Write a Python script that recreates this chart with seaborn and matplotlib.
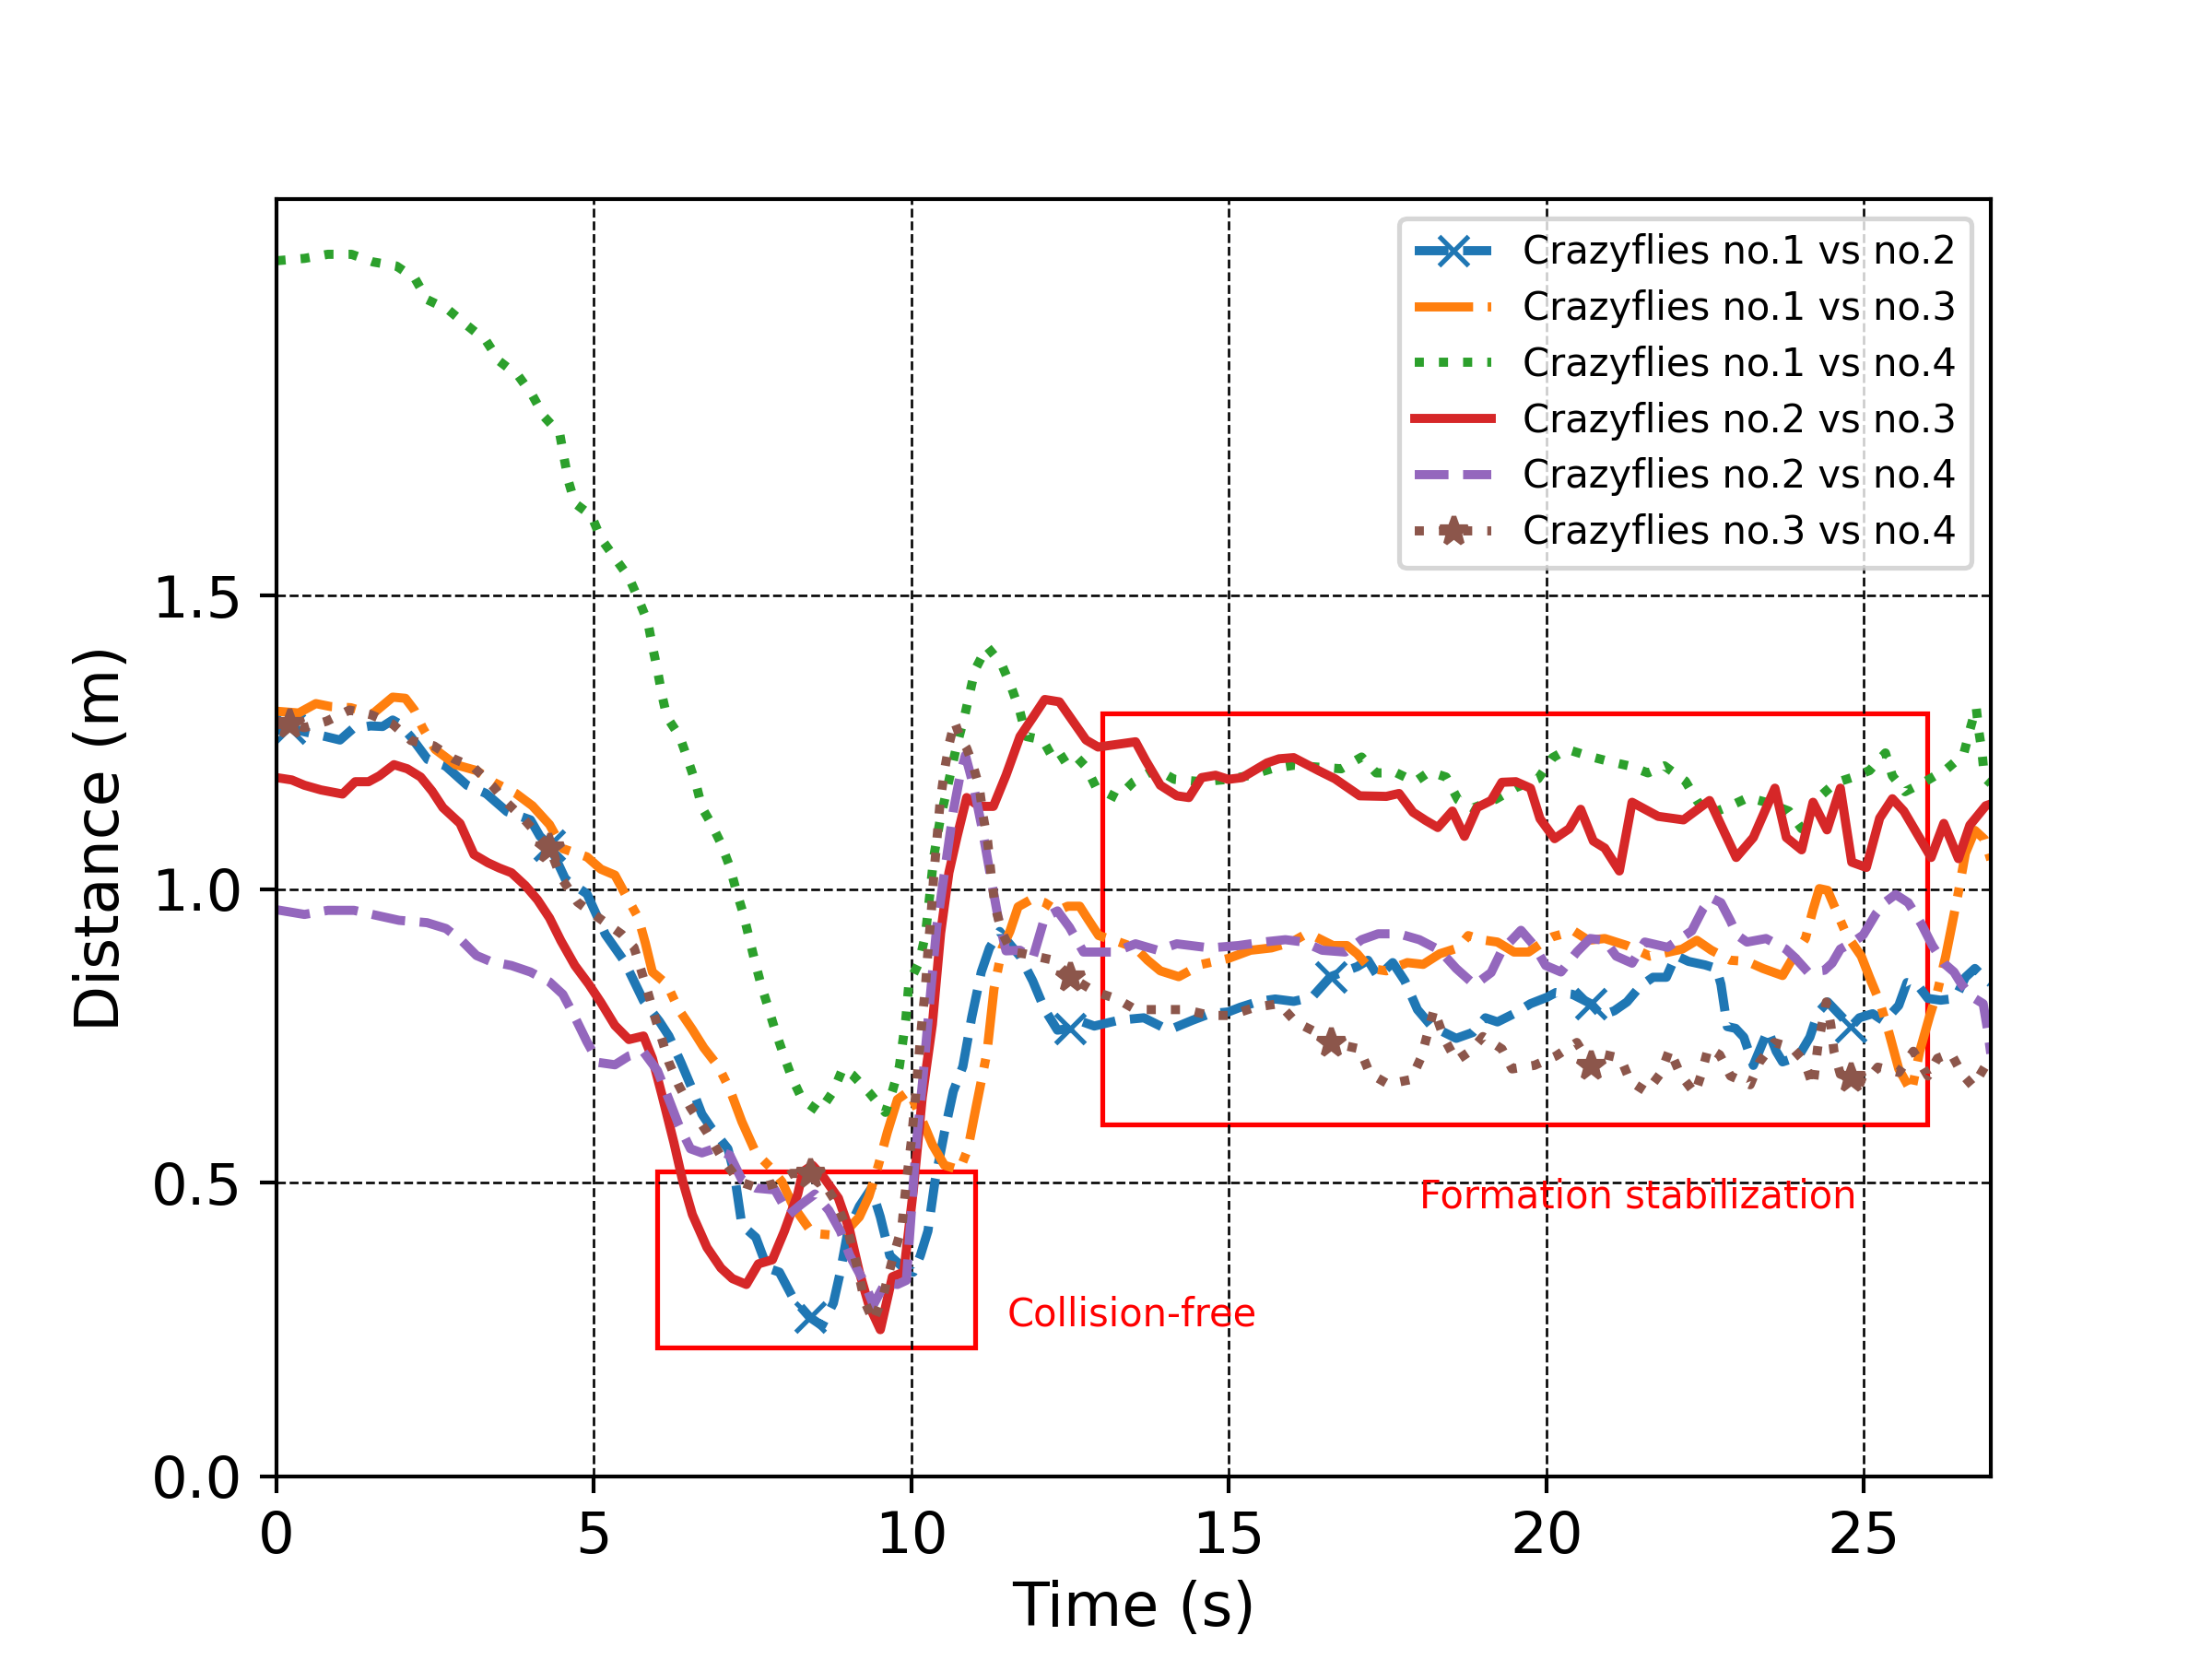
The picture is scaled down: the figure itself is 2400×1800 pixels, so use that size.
import numpy as np
import matplotlib
matplotlib.use("Agg")
import matplotlib.pyplot as plt
import matplotlib.patches as mpatches
import seaborn as sns

# ---------------- data ----------------
LABELS = ["Crazyflies no.1 vs no.2", "Crazyflies no.1 vs no.3", "Crazyflies no.1 vs no.4",
          "Crazyflies no.2 vs no.3", "Crazyflies no.2 vs no.4", "Crazyflies no.3 vs no.4"]
MARK_T = [0.2, 4.3, 8.4, 12.5, 16.6, 20.7, 24.8]

T12 = [0.0, 0.2, 0.44, 0.77, 1.0, 1.2, 1.48, 1.67, 1.83, 1.93, 2.12, 2.38, 2.66, 3.0, 3.3, 3.63, 4.0, 4.15, 4.3,
       4.55, 4.89, 5.18, 5.48, 5.78, 6.03, 6.18, 6.37, 6.55, 6.7, 6.85, 7.11, 7.21, 7.33, 7.55, 7.73, 7.92, 8.14,
       8.4, 8.59, 8.77, 8.88, 9.0, 9.18, 9.37, 9.51, 9.66, 9.88, 10.03, 10.14, 10.26, 10.37, 10.52, 10.66, 10.81,
       10.95, 11.1, 11.23, 11.39, 11.49, 11.71, 11.91, 12.1, 12.3, 12.5, 12.62, 12.88, 13.27, 13.66, 14.05, 14.43,
       14.7, 14.99, 15.18, 15.47, 15.73, 16.02, 16.31, 16.6, 16.77, 17.02, 17.19, 17.35, 17.58, 17.77, 17.97,
       18.19, 18.58, 18.84, 19.04, 19.23, 19.49, 19.75, 20.01, 20.15, 20.41, 20.7, 20.87, 21.07, 21.27, 21.48,
       21.68, 21.89, 22.04, 22.24, 22.5, 22.68, 22.75, 22.85, 22.98, 23.11, 23.26, 23.49, 23.62, 23.72, 23.97,
       24.15, 24.28, 24.43, 24.8, 24.93, 25.14, 25.32, 25.55, 25.68, 25.86, 26.01, 26.21, 26.44, 26.6, 26.75,
       26.92, 27.0]
D12 = [1.27, 1.275, 1.268, 1.26, 1.254, 1.273, 1.278, 1.277, 1.288, 1.282, 1.259, 1.221, 1.21, 1.177, 1.163,
       1.132, 1.118, 1.09, 1.075, 1.017, 0.992, 0.923, 0.877, 0.81, 0.775, 0.75, 0.705, 0.659, 0.617, 0.593,
       0.558, 0.516, 0.428, 0.407, 0.355, 0.348, 0.303, 0.271, 0.257, 0.295, 0.348, 0.418, 0.46, 0.491, 0.442,
       0.376, 0.355, 0.348, 0.376, 0.418, 0.502, 0.586, 0.656, 0.698, 0.782, 0.859, 0.9, 0.928, 0.914, 0.886,
       0.844, 0.795, 0.76, 0.763, 0.777, 0.767, 0.777, 0.781, 0.76, 0.777, 0.788, 0.791, 0.799, 0.809, 0.813,
       0.809, 0.816, 0.851, 0.858, 0.868, 0.879, 0.851, 0.875, 0.844, 0.795, 0.767, 0.746, 0.756, 0.781, 0.774,
       0.788, 0.805, 0.816, 0.824, 0.821, 0.805, 0.785, 0.793, 0.808, 0.835, 0.85, 0.85, 0.887, 0.877, 0.871,
       0.865, 0.838, 0.766, 0.763, 0.748, 0.70, 0.76, 0.724, 0.706, 0.715, 0.748, 0.79, 0.808, 0.766, 0.781,
       0.788, 0.775, 0.802, 0.841, 0.835, 0.814, 0.811, 0.814, 0.85, 0.865, 0.847, 0.84]

T13 = [0.0, 0.35, 0.62, 0.85, 1.17, 1.51, 1.83, 2.03, 2.17, 2.3, 2.5, 2.82, 3.15, 3.44, 3.77, 4.03, 4.3, 4.51,
       4.89, 5.11, 5.33, 5.51, 5.7, 5.81, 5.92, 6.15, 6.33, 6.55, 6.73, 6.96, 7.14, 7.33, 7.55, 7.78, 7.96, 8.14,
       8.44, 8.77, 9.0, 9.18, 9.33, 9.48, 9.62, 9.78, 9.96, 10.14, 10.33, 10.52, 10.76, 10.89, 11.02, 11.19,
       11.3, 11.43, 11.55, 11.68, 11.91, 12.1, 12.3, 12.46, 12.65, 12.78, 12.95, 13.27, 13.53, 13.72, 13.92,
       14.21, 14.57, 14.99, 15.34, 15.67, 15.99, 16.22, 16.38, 16.64, 16.86, 17.02, 17.22, 17.48, 17.81, 18.06,
       18.32, 18.61, 18.77, 18.97, 19.23, 19.49, 19.72, 19.95, 20.1, 20.43, 20.66, 20.92, 21.27, 21.63, 21.89,
       22.14, 22.37, 22.6, 22.9, 23.16, 23.41, 23.72, 23.9, 24.08, 24.2, 24.3, 24.43, 24.61, 24.73, 24.96,
       25.09, 25.25, 25.4, 25.55, 25.75, 25.88, 26.04, 26.16, 26.29, 26.39, 26.49, 26.6, 26.75, 26.9, 27.0]
D13 = [1.303, 1.30, 1.316, 1.311, 1.309, 1.298, 1.327, 1.325, 1.305, 1.275, 1.238, 1.212, 1.202, 1.181, 1.163,
       1.142, 1.11, 1.069, 1.055, 1.034, 1.024, 0.988, 0.951, 0.908, 0.859, 0.838, 0.796, 0.761, 0.73, 0.698,
       0.659, 0.604, 0.551, 0.526, 0.502, 0.46, 0.414, 0.411, 0.421, 0.442, 0.477, 0.53, 0.586, 0.642, 0.656,
       0.614, 0.565, 0.53, 0.522, 0.558, 0.63, 0.722, 0.83, 0.90, 0.928, 0.97, 0.984, 0.977, 0.963, 0.971,
       0.971, 0.949, 0.921, 0.91, 0.90, 0.879, 0.861, 0.851, 0.872, 0.882, 0.896, 0.90, 0.91, 0.924, 0.918,
       0.904, 0.904, 0.89, 0.865, 0.861, 0.875, 0.872, 0.89, 0.90, 0.921, 0.914, 0.91, 0.893, 0.893, 0.91,
       0.919, 0.929, 0.913, 0.916, 0.904, 0.886, 0.892, 0.898, 0.913, 0.896, 0.879, 0.877, 0.865, 0.853, 0.886,
       0.916, 0.965, 1.001, 0.998, 0.952, 0.922, 0.886, 0.85, 0.808, 0.754, 0.694, 0.655, 0.724, 0.785, 0.826,
       0.886, 0.94, 0.995, 1.061, 1.10, 1.085, 1.05]

T14 = [0.0, 0.44, 0.81, 1.18, 1.52, 1.89, 2.18, 2.37, 2.7, 3.0, 3.3, 3.51, 3.81, 4.03, 4.22, 4.46, 4.53, 4.6,
       4.7, 4.96, 5.11, 5.33, 5.55, 5.7, 5.85, 5.92, 6.0, 6.07, 6.15, 6.35, 6.48, 6.61, 6.7, 6.85, 7.0, 7.14,
       7.24, 7.35, 7.44, 7.53, 7.63, 7.74, 7.85, 7.98, 8.11, 8.28, 8.55, 8.77, 8.92, 9.07, 9.34, 9.59, 9.7,
       9.81, 9.86, 9.91, 9.96, 10.12, 10.22, 10.29, 10.35, 10.45, 10.58, 10.71, 10.84, 11.0, 11.19, 11.42,
       11.58, 11.71, 11.81, 12.07, 12.27, 12.53, 12.75, 12.91, 13.24, 13.5, 13.85, 14.14, 14.57, 14.99, 15.34,
       15.67, 16.02, 16.38, 16.77, 17.09, 17.32, 17.64, 17.93, 18.16, 18.42, 18.61, 18.84, 19.2, 19.52, 19.87,
       20.1, 20.33, 20.69, 20.97, 21.3, 21.6, 21.86, 22.19, 22.37, 22.55, 22.9, 23.18, 23.46, 23.82, 24.02,
       24.22, 24.3, 24.55, 24.81, 25.09, 25.34, 25.45, 25.65, 25.98, 26.31, 26.57, 26.67, 26.77, 26.81, 26.86,
       26.9, 27.0]
D14 = [2.07, 2.074, 2.081, 2.081, 2.068, 2.061, 2.04, 2.004, 1.987, 1.96, 1.934, 1.899, 1.874, 1.841, 1.804,
       1.776, 1.734, 1.694, 1.657, 1.636, 1.597, 1.564, 1.531, 1.494, 1.454, 1.414, 1.373, 1.331, 1.293, 1.26,
       1.22, 1.178, 1.139, 1.111, 1.078, 1.038, 0.998, 0.959, 0.919, 0.879, 0.838, 0.80, 0.761, 0.72, 0.681,
       0.642, 0.621, 0.656, 0.695, 0.684, 0.653, 0.62, 0.656, 0.698, 0.737, 0.777, 0.84, 0.875, 0.922, 0.991,
       1.054, 1.117, 1.18, 1.243, 1.296, 1.373, 1.413, 1.383, 1.342, 1.302, 1.26, 1.254, 1.215, 1.233, 1.208,
       1.173, 1.155, 1.183, 1.205, 1.187, 1.183, 1.187, 1.194, 1.205, 1.211, 1.208, 1.205, 1.225, 1.198, 1.198,
       1.183, 1.20, 1.191, 1.152, 1.138, 1.153, 1.173, 1.188, 1.224, 1.238, 1.226, 1.218, 1.21, 1.198, 1.21,
       1.184, 1.151, 1.127, 1.142, 1.156, 1.148, 1.133, 1.103, 1.121, 1.157, 1.181, 1.19, 1.202, 1.232, 1.193,
       1.166, 1.184, 1.205, 1.229, 1.271, 1.31, 1.27, 1.235, 1.19, 1.18]

T23 = [0.0, 0.24, 0.44, 0.7, 1.04, 1.24, 1.45, 1.62, 1.85, 2.06, 2.27, 2.45, 2.62, 2.89, 3.11, 3.33, 3.51, 3.7,
       3.92, 4.11, 4.3, 4.48, 4.7, 4.92, 5.11, 5.33, 5.55, 5.78, 5.92, 6.07, 6.26, 6.4, 6.55, 6.78, 7.0, 7.18,
       7.4, 7.59, 7.81, 8.0, 8.21, 8.29, 8.44, 8.62, 8.85, 9.03, 9.18, 9.33, 9.51, 9.7, 9.88, 10.03, 10.17,
       10.33, 10.46, 10.59, 10.72, 10.87, 11.07, 11.29, 11.49, 11.71, 11.91, 12.1, 12.33, 12.75, 12.94, 13.53,
       13.69, 13.92, 14.18, 14.37, 14.57, 14.79, 14.99, 15.21, 15.6, 15.79, 16.02, 16.41, 16.67, 17.06, 17.48,
       17.68, 17.9, 18.1, 18.29, 18.52, 18.71, 18.91, 19.13, 19.3, 19.52, 19.75, 19.9, 20.13, 20.36, 20.54,
       20.74, 20.92, 21.15, 21.35, 21.76, 22.16, 22.57, 22.99, 23.26, 23.6, 23.78, 24.02, 24.2, 24.42, 24.63,
       24.81, 25.04, 25.25, 25.45, 25.63, 26.06, 26.26, 26.49, 26.67, 26.92, 27.0]
D23 = [1.19, 1.186, 1.177, 1.169, 1.162, 1.183, 1.183, 1.193, 1.212, 1.205, 1.191, 1.167, 1.139, 1.112, 1.059,
       1.045, 1.036, 1.028, 1.006, 0.982, 0.951, 0.912, 0.87, 0.838, 0.807, 0.768, 0.744, 0.75, 0.712, 0.65,
       0.568, 0.502, 0.446, 0.39, 0.355, 0.337, 0.327, 0.362, 0.369, 0.418, 0.481, 0.519, 0.53, 0.509, 0.474,
       0.418, 0.348, 0.292, 0.25, 0.34, 0.348, 0.488, 0.645, 0.77, 0.925, 1.028, 1.09, 1.156, 1.141, 1.141,
       1.194, 1.26, 1.292, 1.323, 1.319, 1.254, 1.242, 1.251, 1.219, 1.177, 1.159, 1.156, 1.19, 1.194, 1.187,
       1.19, 1.215, 1.222, 1.224, 1.202, 1.188, 1.159, 1.158, 1.163, 1.131, 1.117, 1.105, 1.133, 1.09, 1.139,
       1.151, 1.182, 1.183, 1.172, 1.12, 1.086, 1.103, 1.136, 1.082, 1.07, 1.031, 1.148, 1.124, 1.118, 1.151,
       1.054, 1.088, 1.172, 1.088, 1.067, 1.148, 1.101, 1.172, 1.046, 1.037, 1.121, 1.154, 1.133, 1.054, 1.112,
       1.052, 1.109, 1.142, 1.145]

T24 = [0.0, 0.44, 0.81, 1.22, 1.55, 1.93, 2.37, 2.67, 2.92, 3.15, 3.37, 3.7, 4.0, 4.3, 4.51, 4.7, 4.89, 5.07,
       5.33, 5.55, 5.78, 6.0, 6.18, 6.33, 6.52, 6.7, 6.89, 7.14, 7.33, 7.55, 7.85, 8.07, 8.26, 8.48, 8.7, 8.88,
       9.03, 9.26, 9.4, 9.59, 9.78, 9.92, 10.0, 10.07, 10.18, 10.29, 10.4, 10.52, 10.66, 10.77, 10.85, 10.98,
       11.12, 11.25, 11.36, 11.49, 11.71, 11.91, 12.1, 12.3, 12.49, 12.71, 12.94, 13.2, 13.53, 13.88, 14.18,
       14.7, 15.15, 15.54, 15.89, 16.18, 16.47, 16.83, 17.09, 17.35, 17.68, 18.0, 18.32, 18.58, 18.87, 19.13,
       19.3, 19.6, 19.8, 19.99, 20.23, 20.48, 20.69, 20.92, 21.1, 21.35, 21.55, 21.91, 22.29, 22.47, 22.6,
       22.75, 22.9, 23.0, 23.16, 23.46, 23.77, 23.92, 24.12, 24.38, 24.5, 24.63, 24.83, 24.99, 25.19, 25.35,
       25.5, 25.7, 25.91, 26.08, 26.26, 26.42, 26.54, 26.7, 26.88, 26.95, 27.0]
D24 = [0.965, 0.957, 0.964, 0.964, 0.956, 0.947, 0.943, 0.933, 0.912, 0.887, 0.877, 0.87, 0.859, 0.842, 0.821,
       0.782, 0.74, 0.705, 0.701, 0.716, 0.723, 0.691, 0.642, 0.60, 0.558, 0.551, 0.558, 0.547, 0.505, 0.491,
       0.488, 0.446, 0.463, 0.481, 0.453, 0.418, 0.376, 0.33, 0.292, 0.33, 0.327, 0.334, 0.453, 0.558, 0.677,
       0.81, 0.937, 1.028, 1.133, 1.196, 1.228, 1.175, 1.10, 1.02, 0.955, 0.895, 0.896, 0.882, 0.952, 0.963,
       0.935, 0.893, 0.893, 0.893, 0.907, 0.896, 0.907, 0.90, 0.904, 0.91, 0.914, 0.91, 0.896, 0.893, 0.914,
       0.924, 0.924, 0.914, 0.896, 0.865, 0.837, 0.858, 0.896, 0.93, 0.905, 0.87, 0.859, 0.893, 0.916, 0.913,
       0.886, 0.874, 0.91, 0.901, 0.929, 0.967, 0.985, 0.977, 0.946, 0.922, 0.91, 0.916, 0.898, 0.883, 0.859,
       0.862, 0.874, 0.898, 0.91, 0.922, 0.958, 0.979, 0.991, 0.977, 0.94, 0.904, 0.874, 0.859, 0.838, 0.817,
       0.805, 0.76, 0.72]

T34 = [0.0, 0.2, 0.44, 0.79, 1.15, 1.49, 1.83, 2.12, 2.48, 2.79, 3.11, 3.41, 3.63, 3.9, 4.3, 4.48, 4.74, 5.04,
       5.44, 5.63, 5.74, 5.85, 5.96, 6.07, 6.18, 6.33, 6.52, 6.78, 7.03, 7.29, 7.59, 7.85, 8.11, 8.4, 8.59,
       8.81, 9.0, 9.15, 9.26, 9.4, 9.55, 9.7, 9.85, 9.92, 10.0, 10.06, 10.11, 10.16, 10.22, 10.26, 10.31,
       10.35, 10.4, 10.45, 10.52, 10.6, 10.68, 10.78, 10.87, 10.97, 11.07, 11.13, 11.2, 11.26, 11.32, 11.42,
       11.58, 11.78, 12.24, 12.5, 12.88, 13.24, 13.53, 13.92, 14.31, 14.7, 15.02, 15.41, 15.79, 16.05, 16.38,
       16.6, 17.06, 17.22, 17.51, 17.87, 18.03, 18.23, 18.39, 18.58, 18.81, 19.0, 19.3, 19.46, 19.81, 20.15,
       20.48, 20.7, 20.89, 21.17, 21.32, 21.58, 21.81, 21.94, 22.11, 22.34, 22.45, 22.55, 22.73, 22.9, 23.21,
       23.36, 23.59, 23.87, 24.07, 24.2, 24.28, 24.41, 24.48, 24.53, 24.63, 24.8, 25.02, 25.22, 25.55, 25.78,
       26.01, 26.16, 26.37, 26.55, 26.72, 26.92, 27.0]
D34 = [1.28, 1.282, 1.275, 1.286, 1.305, 1.297, 1.281, 1.253, 1.244, 1.222, 1.207, 1.175, 1.147, 1.119, 1.07,
       1.02, 0.978, 0.954, 0.923, 0.901, 0.863, 0.824, 0.782, 0.744, 0.705, 0.667, 0.628, 0.586, 0.54, 0.502,
       0.491, 0.499, 0.516, 0.516, 0.505, 0.467, 0.418, 0.355, 0.299, 0.264, 0.306, 0.369, 0.425, 0.502, 0.572,
       0.642, 0.705, 0.768, 0.832, 0.894, 0.957, 1.02, 1.083, 1.146, 1.202, 1.25, 1.285, 1.255, 1.24, 1.211,
       1.173, 1.124, 1.082, 1.019, 0.97, 0.928, 0.893, 0.89, 0.879, 0.851, 0.826, 0.813, 0.795, 0.795, 0.795,
       0.785, 0.785, 0.799, 0.805, 0.774, 0.756, 0.739, 0.728, 0.686, 0.668, 0.676, 0.714, 0.795, 0.746, 0.708,
       0.725, 0.749, 0.728, 0.694, 0.70, 0.716, 0.739, 0.70, 0.719, 0.712, 0.673, 0.655, 0.688, 0.727, 0.685,
       0.652, 0.688, 0.73, 0.718, 0.682, 0.667, 0.706, 0.739, 0.73, 0.706, 0.664, 0.736, 0.808, 0.769, 0.724,
       0.685, 0.679, 0.67, 0.697, 0.688, 0.724, 0.682, 0.712, 0.721, 0.685, 0.664, 0.70, 0.71]

COLORS = ["#1f77b4", "#ff7f0e", "#2ca02c", "#d62728", "#9467bd", "#8c564b"]
STYLES = ["--", "-.", ":", "-", "--", ":"]
MARKERS = ["x", None, None, None, None, "*"]

SERIES = [(T12, D12), (T13, D13), (T14, D14), (T23, D23), (T24, D24), (T34, D34)]

# ---------------- figure ----------------
fig, ax = plt.subplots(figsize=(6.4, 4.8), dpi=375)

for (tt, dd), lab, col, ls, mk in zip(SERIES, LABELS, COLORS, STYLES, MARKERS):
    kw = dict(x=np.array(tt), y=np.array(dd), ax=ax, color=col, linestyle=ls, linewidth=1.9,
              label=lab, estimator=None, sort=False, legend=False)
    if mk is not None:
        tarr = np.array(tt)
        idx = [int(np.argmin(np.abs(tarr - m))) for m in MARK_T]
        kw.update(marker=mk, markevery=idx, markersize=6, markeredgewidth=1.0,
                  markeredgecolor=col, markerfacecolor=col)
    sns.lineplot(**kw)

# annotation boxes
ax.add_patch(mpatches.Rectangle((6, 0.22), 5, 0.30, fill=False, edgecolor="red", linewidth=1.0))
ax.add_patch(mpatches.Rectangle((13, 0.60), 13, 0.70, fill=False, edgecolor="red", linewidth=1.0))
ax.text(11.5, 0.257, "Collision-free", color="red", fontsize=8)
ax.text(18, 0.457, "Formation stabilization", color="red", fontsize=8)

ax.set_xlim(0, 27)
ax.set_ylim(0, 2.175)
ax.set_yticks([0.0, 0.5, 1.0, 1.5])
ax.set_xticks([0, 5, 10, 15, 20, 25])
ax.tick_params(labelsize=12)
ax.set_xlabel("Time (s)", fontsize=12.5, labelpad=3)
ax.set_ylabel("Distance (m)", fontsize=12.5)
ax.grid(True, color="k", linestyle="--", linewidth=0.5)
ax.legend(loc="upper right", fontsize=8, labelspacing=0.45)

fig.savefig("out.png", dpi=375)
